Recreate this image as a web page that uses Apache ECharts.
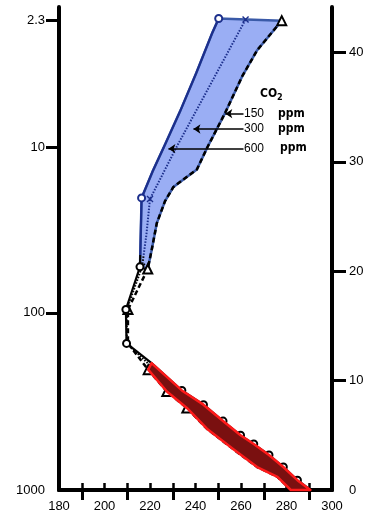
<!DOCTYPE html>
<html>
<head>
<meta charset="utf-8">
<script src="https://cdn.jsdelivr.net/npm/echarts@6/dist/echarts.min.js"></script>
<style>
  html, body { margin: 0; padding: 0; background: #fff; }
  #chart { width: 382px; height: 513px; }
</style>
</head>
<body>
<div id="chart"></div>
<script>
// temperature (K) vs altitude (km)
const alt150 = [42.9, 40.2, 37.8, 34.5, 31.4, 29.3, 27.7, 26.4, 24.4, 21.9, 20.2, 16.5, 13.4, 11.0, 9.0, 7.5, 5.6, 3.7, 2.1, 1.2, 0];
const temp150 = [277.9, 267.1, 260.5, 253.1, 245.4, 240.6, 230.3, 226.6, 223.0, 220.7, 219.0, 210.3, 210.3, 219.2, 227.4, 236.2, 245.0, 256.8, 267.1, 276.0, 281.9];
const mark150 = [0, 10, 11, 13, 14, 15];

const alt300 = [43.0, 31.4, 26.6, 23.3, 20.4, 16.5, 13.4, 11.4, 9.1, 7.7, 6.2, 4.8, 3.9, 2.8, 1.8, 0.8, 0];
const temp300 = [262.0, 231.8, 220.0, 218.4, 216.5, 209.8, 209.8, 220.0, 230.6, 239.4, 248.3, 256.7, 263.3, 269.9, 276.6, 282.4, 286.8];
const mark300 = [0, 2, 4];

const alt600 = [43.1, 41.8, 38.1, 34.7, 31.3, 29.1, 26.7, 20.4, 16.5, 13.4, 11.6, 9.1, 7.8, 6.3, 5.0, 4.2, 3.2, 2.1, 0.9, 0];
const temp600 = [250.2, 247.4, 240.3, 233.4, 226.0, 221.1, 216.3, 215.6, 209.4, 209.7, 220.7, 234.0, 243.5, 252.1, 259.8, 265.6, 272.3, 278.6, 284.8, 290.5];
const mark600 = [0, 6, 7, 8, 9, 11, 12, 13, 14, 15, 16, 17, 18];

// axis ticks / labels
const tempLabels = [180, 200, 220, 240, 260, 280, 300];
const tempTicks = [190, 200, 210, 220, 230, 240, 250, 260, 270, 280, 290];
const tempBottomTicks = [190, 210, 230, 250, 270, 290];
const altLabels = [0, 10, 20, 30, 40];
const pressLabels = ['1000', '100', '10', '2.3'];
const pressHeights = [0, 16.2, 31.35, 42.96];

// arrows for the CO2 labels: [from, to] in [K, km]
const arrow150 = [[261.1, 34.4], [253.1, 34.4]];
const arrow300 = [[261.1, 33.0], [239.1, 33.0]];
const arrow600 = [[261.1, 31.2], [228.1, 31.2]];

const zip = (t, a) => t.map((v, i) => [v, a[i]]);
const pts150 = zip(temp150, alt150);
const pts300 = zip(temp300, alt300);
const pts600 = zip(temp600, alt600);

// shaded bands between the 600 and 150 ppm curves
const blueBand = pts600.slice(0, 8).concat(pts150.slice(0, 11).reverse());
const redBand = pts600.slice(10).concat(pts150.slice(13).reverse());

const FONT = 'Liberation Sans';

var chart = echarts.init(document.getElementById('chart'));

function band(points, fill, stroke, z) {
  return {
    type: 'custom',
    xAxisIndex: 0,
    yAxisIndex: 0,
    z: z,
    silent: true,
    data: points,
    encode: { x: 0, y: 1 },
    renderItem: function (params, api) {
      if (params.dataIndex !== 0) return null;
      return {
        type: 'polygon',
        shape: { points: points.map((p) => api.coord(p)) },
        style: { fill: fill, stroke: stroke, lineWidth: 2.5, lineJoin: 'round' }
      };
    }
  };
}

function curve(points, marks, symbol, size, lineType, width, arrow, color) {
  var lineStyle = { width: width, type: lineType };
  if (color) lineStyle.color = color;
  return {
    type: 'line',
    xAxisIndex: 0,
    yAxisIndex: 0,
    z: 3,
    data: points,
    symbol: (v, p) => (marks.includes(p.dataIndex) ? symbol : 'none'),
    symbolSize: size,
    showSymbol: true,
    itemStyle: { color: '#000', borderWidth: 1.5 },
    lineStyle: lineStyle,
    markLine: {
      silent: true,
      symbol: ['none', 'arrow'],
      symbolSize: 7,
      label: { show: false },
      lineStyle: { color: '#000', width: 1.5, type: 'solid' },
      data: [[{ coord: arrow[0] }, { coord: arrow[1] }]]
    }
  };
}

const crossPath = 'path://M0,1.4L1.4,0L5,3.6L8.6,0L10,1.4L6.4,5L10,8.6L8.6,10L5,6.4L1.4,10L0,8.6L3.6,5Z';

var option = {
  animation: false,
  backgroundColor: '#fff',
  grid: { left: 59, right: 50, top: 7, bottom: 23 },
  xAxis: [
    {
      type: 'value', position: 'bottom', min: 180, max: 300, interval: 20,
      axisLine: { lineStyle: { color: '#000', width: 4 } },
      axisTick: { customValues: tempBottomTicks, length: 10, lineStyle: { width: 3, color: '#000' } },
      axisLabel: { customValues: tempLabels, color: '#000', fontSize: 13, fontFamily: FONT, margin: 10 },
      splitLine: { show: false }
    },
    {
      type: 'value', position: 'top', min: 180, max: 300, interval: 10,
      axisLine: { lineStyle: { color: '#000', width: 4 } },
      axisTick: { customValues: tempTicks, length: 7, lineStyle: { width: 2.5, color: '#000' } },
      axisLabel: { show: false },
      splitLine: { show: false }
    }
  ],
  yAxis: [
    {
      type: 'value', position: 'right', min: 0, max: 44.15, interval: 10,
      axisLine: { lineStyle: { color: '#000', width: 4 } },
      axisTick: { customValues: [10, 20, 30, 40], length: 14, lineStyle: { width: 3, color: '#000' } },
      axisLabel: { customValues: altLabels, color: '#000', fontSize: 13, fontFamily: FONT, margin: 17 },
      splitLine: { show: false }
    },
    {
      type: 'value', position: 'left', min: 0, max: 44.15,
      axisLine: { lineStyle: { color: '#000', width: 4 } },
      axisTick: { customValues: pressHeights.slice(1), length: 13, lineStyle: { width: 3, color: '#000' } },
      axisLabel: {
        customValues: pressHeights, color: '#000', fontSize: 13, fontFamily: FONT, margin: 14,
        formatter: (v) => pressLabels[pressHeights.indexOf(v)]
      },
      splitLine: { show: false }
    }
  ],
  visualMap: [{
    type: 'piecewise', show: false, dimension: 1, seriesIndex: [2, 3],
    pieces: [{ gt: 21.5, lte: 50, color: '#1c2f8c' }],
    outOfRange: { color: '#000' }
  }],
  series: [
    band(blueBand, '#9aaef4', '#3a5aa8', 1),
    curve(pts150, mark150, 'emptyTriangle', 9, [5, 3], 2.5, arrow150, '#000'),
    curve(pts300, mark300, crossPath, 7, [1.5, 1.5], 2, arrow300),
    curve(pts600, mark600, 'emptyCircle', 7, 'solid', 2.2, arrow600),
    band(redBand, '#7a1010', '#ff1a1a', 5)
  ],
  graphic: [
    { type: 'text', x: 260, y: 94, style: { text: 'CO', font: 'bold 12px "DejaVu Sans Condensed"', fill: '#000', verticalAlign: 'middle' } },
    { type: 'text', x: 277, y: 98, style: { text: '2', font: 'bold 9px "DejaVu Sans Condensed"', fill: '#000', verticalAlign: 'middle' } },
    { type: 'text', x: 244, y: 113.5, style: { text: '150', font: '12px ' + FONT, fill: '#000', verticalAlign: 'middle' } },
    { type: 'text', x: 244, y: 128.5, style: { text: '300', font: '12px ' + FONT, fill: '#000', verticalAlign: 'middle' } },
    { type: 'text', x: 244, y: 148.5, style: { text: '600', font: '12px ' + FONT, fill: '#000', verticalAlign: 'middle' } },
    { type: 'text', x: 278, y: 114, style: { text: 'ppm', font: 'bold 12px "DejaVu Sans Condensed"', fill: '#000', verticalAlign: 'middle' } },
    { type: 'text', x: 278, y: 129, style: { text: 'ppm', font: 'bold 12px "DejaVu Sans Condensed"', fill: '#000', verticalAlign: 'middle' } },
    { type: 'text', x: 280, y: 148, style: { text: 'ppm', font: 'bold 12px "DejaVu Sans Condensed"', fill: '#000', verticalAlign: 'middle' } }
  ]
};

option && chart.setOption(option);
</script>
</body>
</html>
